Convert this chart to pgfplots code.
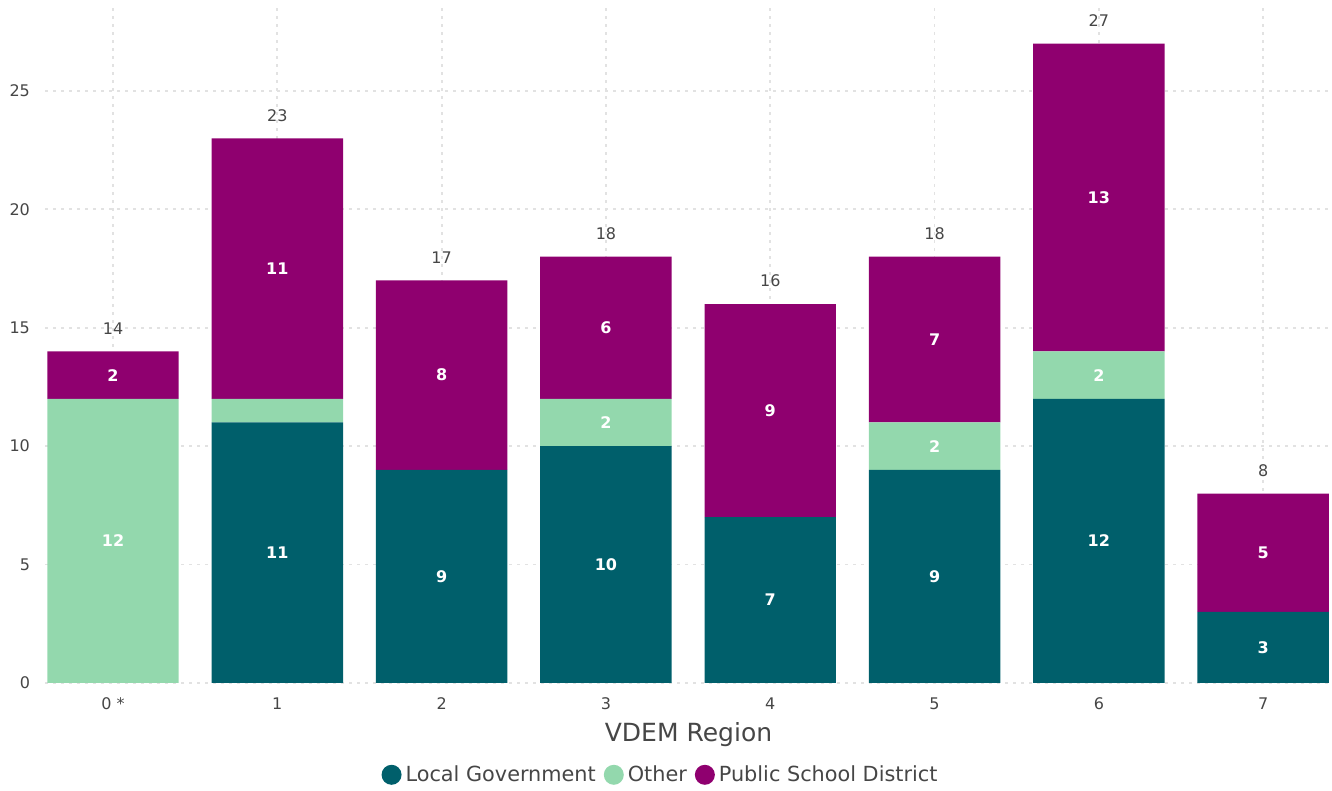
\documentclass[border=0pt]{standalone}
\usepackage{pgfplots}
\pgfplotsset{compat=1.18}
\usepackage{fontspec}
\setmainfont{DejaVu Sans}
\definecolor{lg}{RGB}{0,95,107}
\definecolor{oth}{RGB}{147,216,173}
\definecolor{psd}{RGB}{143,0,111}
\definecolor{txt}{RGB}{70,70,70}
\definecolor{grd}{RGB}{226,226,226}
\begin{document}
\begin{tikzpicture}
\useasboundingbox (0,0) rectangle (666pt,395.5pt);
\pgfplotsset{base/.style={at={(22.5pt,54pt)}, anchor=south west, scale only axis,
  width=643.5pt, height=337.5pt, xmin=-0.414, xmax=7.419, ymin=0, ymax=28.5}}
\begin{axis}[base, ybar stacked, bar width=0.8,
  /pgf/number format/assume math mode=true,
  axis line style={draw=none}, major tick length=0pt, tick style={draw=none},
  xmajorgrids, ymajorgrids,
  major grid style={grd, line width=0.9pt, dash pattern=on 1.5pt off 2.5pt},
  ytick={0,5,...,25},
  xtick={0,...,7}, xticklabels={0 *,1,2,3,4,5,6,7},
  yticklabel style={font=\fontsize{8}{9}\selectfont, text=txt, xshift=-4pt},
  xticklabel style={font=\fontsize{8}{9}\selectfont, text=txt, yshift=-4pt},
  xlabel={VDEM Region},
  xlabel style={at={(axis description cs:0.5,-0.077)}, anchor=center, font=\fontsize{12.5}{14}\selectfont, text=txt},
  legend style={at={(0.479,-0.136)}, anchor=center, legend columns=3, draw=none, fill=none,
    font=\fontsize{10.4}{12}\selectfont, text=txt, inner sep=0pt,
    /tikz/every even column/.append style={column sep=2pt}},
  legend image code/.code={\fill[#1, draw=none] (0.17cm,0pt) circle (5pt);},
  legend cell align=left,
]
\addplot[fill=lg, draw=none] coordinates {(0,0) (1,11) (2,9) (3,10) (4,7) (5,9) (6,12) (7,3)};
\addplot[fill=oth, draw=none] coordinates {(0,12) (1,1) (2,0) (3,2) (4,0) (5,2) (6,2) (7,0)};
\addplot[fill=psd, draw=none] coordinates {(0,2) (1,11) (2,8) (3,6) (4,9) (5,7) (6,13) (7,5)};
\legend{Local Government,Other,Public School District}
\end{axis}
\begin{axis}[base, hide axis, clip=false]
\addplot[draw=none, nodes near coords, point meta=explicit symbolic,
  nodes near coords style={anchor=center, text=white, font=\fontsize{8}{9}\selectfont\bfseries}]
  table[meta=lab] {
x y lab
0 6 12
0 13 2
1 5.5 11
1 17.5 11
2 4.5 9
2 13 8
3 5 10
3 11 2
3 15 6
4 3.5 7
4 11.5 9
5 4.5 9
5 10 2
5 14.5 7
6 6 12
6 13 2
6 20.5 13
7 1.5 3
7 5.5 5
};
\addplot[draw=none, nodes near coords, point meta=explicit symbolic,
  nodes near coords style={anchor=center, text=txt, yshift=11.5pt, font=\fontsize{8}{9}\selectfont}]
  table[meta=lab] {
x y lab
0 14 14
1 23 23
2 17 17
3 18 18
4 16 16
5 18 18
6 27 27
7 8 8
};
\end{axis}
\end{tikzpicture}
\end{document}
